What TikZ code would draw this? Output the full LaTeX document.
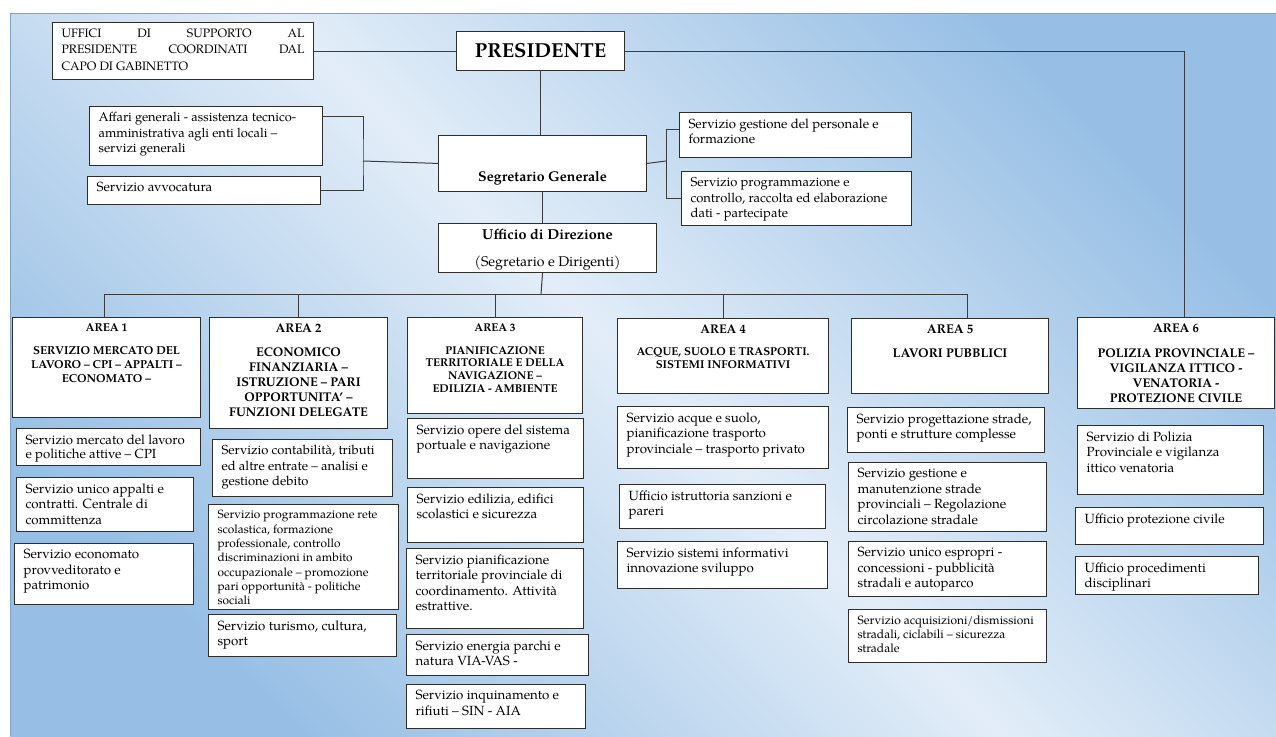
\documentclass[tikz,border=0pt]{standalone}
\usepackage{fontspec}
\setmainfont{texgyrepagella}[Extension=.otf, UprightFont=*-regular, BoldFont=*-bold, ItalicFont=*-italic, BoldItalicFont=*-bolditalic]
\usepackage{tikz}

\definecolor{fondoscuro}{HTML}{97BFE5}
\definecolor{fondochiaro}{HTML}{E2EDF8}
\definecolor{bordo}{HTML}{2E2E2E}
\definecolor{filo}{HTML}{3C3C3C}

% contenuto di un riquadro: larghezza e altezza del riquadro (in pt), testo
\newcommand{\riquadro}[4][t]{%
  \begin{minipage}[t][\dimexpr #3pt-12pt\relax][#1]{\dimexpr #2pt-18pt\relax}%
    \raggedright #4%
  \end{minipage}}

\begin{document}
\begin{tikzpicture}[x=1pt, y=-1pt, % 1 pt = 1 pixel, asse y verso il basso
    voce/.style={draw=bordo, line width=1.1pt, fill=white, anchor=north west,
      inner xsep=9pt, inner ysep=6pt, font=\fontsize{13.3}{15.5}\selectfont},
    collegamento/.style={draw=filo, line width=1pt}]

    % 1. Sfondo azzurro sfumato
    \useasboundingbox (0,0) rectangle (1276,736);
    \shade[left color=fondoscuro, right color=fondoscuro, middle color=fondochiaro,
      shading angle=135] (10,13) rectangle (1276,736);
    \draw[fondoscuro!85!black, line width=0.8pt] (1276,13) -- (10,13) -- (10,736);

    % 2. Presidente e uffici di supporto
    \node[voce, font=\fontsize{12.2}{16.5}\selectfont] (uffici) at (52,22) {\riquadro{261}{57}{\rightskip=0pt
      UFFICI DI SUPPORTO AL\linebreak PRESIDENTE COORDINATI DAL\linebreak CAPO DI GABINETTO}};
    \node[voce] (pres) at (456,31) {\riquadro[c]{168}{39}{\centering\bfseries
      \fontsize{20.2}{24}\selectfont PRESIDENTE}};

    % 3. Segretario Generale e servizi collegati
    \node[voce] (segr) at (438,135) {\riquadro[b]{208}{52}{\centering\bfseries
      \fontsize{14.1}{16}\selectfont Segretario Generale}};
    \node[voce, font=\fontsize{12.9}{15.5}\selectfont] (affari) at (89,106) {\riquadro{233}{59}{Affari generali - assistenza tecnico-\\
      amministrativa agli enti locali --\\ servizi generali}};
    \node[voce] (avvoc) at (87,176) {\riquadro{233}{28}{Servizio avvocatura}};
    \node[voce, font=\fontsize{13.2}{15.5}\selectfont] (pers) at (679,112) {\riquadro{232}{45}{Servizio gestione del personale e\\ formazione}};
    \node[voce, font=\fontsize{13}{15.5}\selectfont] (progc) at (681,171) {\riquadro{230}{54}{Servizio programmazione e\\
      controllo, raccolta ed elaborazione\\ dati - partecipate}};

    % 4. Ufficio di Direzione
    \node[voce, font=\fontsize{14.1}{16}\selectfont] (udir) at (438,223) {\riquadro{218}{49}{\centering
      {\bfseries\fontsize{14.4}{16}\selectfont Ufficio di Direzione}\\[11pt] (Segretario e Dirigenti)}};

    % 5. Le sei aree
    \node[voce, font=\fontsize{11.5}{14}\selectfont] (a1) at (12,317) {\riquadro{188}{100}{\centering\bfseries
      AREA 1\\[9pt] SERVIZIO MERCATO DEL\\ LAVORO -- CPI -- APPALTI --\\ ECONOMATO --}};
    \node[voce, font=\fontsize{12.6}{15}\selectfont] (a2) at (209,317) {\riquadro{178}{111}{\centering\bfseries
      AREA 2\\[9pt] ECONOMICO\\ FINANZIARIA --\\ ISTRUZIONE -- PARI\\ OPPORTUNITA' --\\ FUNZIONI DELEGATE}};
    \node[voce, font=\fontsize{11.3}{12.7}\selectfont] (a3) at (407,317) {\riquadro{175}{96}{\centering\bfseries
      AREA 3\\[10pt] PIANIFICAZIONE\\ TERRITORIALE E DELLA\\ NAVIGAZIONE --\\ EDILIZIA - AMBIENTE}};
    \node[voce, font=\fontsize{11.4}{12.5}\selectfont] (a4) at (617,318) {\riquadro{211}{75}{\centering\bfseries
      {\fontsize{12.5}{14}\selectfont AREA 4}\\[10pt] ACQUE, SUOLO E TRASPORTI.\\ SISTEMI INFORMATIVI}};
    \node[voce, font=\fontsize{12.7}{14}\selectfont] (a5) at (851,318) {\riquadro{197}{75}{\centering\bfseries
      AREA 5\\[10pt] LAVORI PUBBLICI}};
    \node[voce, font=\fontsize{12.6}{15}\selectfont] (a6) at (1077,317) {\riquadro{197}{91}{\centering\bfseries
      AREA 6\\[10pt] POLIZIA PROVINCIALE --\\ VIGILANZA ITTICO -\\ VENATORIA -\\ PROTEZIONE CIVILE}};

    % 6. Servizi dell'area 1
    \node[voce, font=\fontsize{13.2}{14.3}\selectfont] (s11) at (16,428) {\riquadro{184}{37}{Servizio mercato del lavoro\\ e politiche attive -- CPI}};
    \node[voce] (s12) at (16,477) {\riquadro{177}{54}{Servizio unico appalti e\\ contratti. Centrale di\\ committenza}};
    \node[voce] (s13) at (14,543) {\riquadro{179}{61}{Servizio economato\\ provveditorato e\\ patrimonio}};

    % 7. Servizi dell'area 2
    \node[voce, font=\fontsize{13}{15.5}\selectfont] (s21) at (212,439) {\riquadro{180}{57}{Servizio contabilità, tributi\\ ed altre entrate -- analisi e\\ gestione debito}};
    \node[voce, font=\fontsize{11.9}{14.3}\selectfont] (s22) at (208,504) {\riquadro{190}{105}{Servizio programmazione rete\\
      scolastica, formazione\\ professionale, controllo\\ discriminazioni in ambito\\ occupazionale -- promozione\\
      pari opportunità - politiche\\ sociali}};
    \node[voce] (s23) at (208,614) {\riquadro{188}{42}{Servizio turismo, cultura,\\ sport}};

    % 8. Servizi dell'area 3
    \node[voce] (s31) at (407,418) {\riquadro{176}{60}{Servizio opere del sistema\\ portuale e navigazione}};
    \node[voce] (s32) at (407,487) {\riquadro{176}{55}{Servizio edilizia, edifici\\ scolastici e sicurezza}};
    \node[voce] (s33) at (406,548) {\riquadro{177}{80}{Servizio pianificazione\\ territoriale provinciale di\\
      coordinamento. Attività\\ estrattive.}};
    \node[voce] (s34) at (406,634) {\riquadro{182}{41}{Servizio energia parchi e\\ natura VIA-VAS -}};
    \node[voce] (s35) at (406,684) {\riquadro{179}{44}{Servizio inquinamento e\\ rifiuti -- SIN - AIA}};

    % 9. Servizi dell'area 4
    \node[voce] (s41) at (617,406) {\riquadro{211}{62}{Servizio acque e suolo,\\ pianificazione trasporto\\
      provinciale -- trasporto privato}};
    \node[voce] (s42) at (619,484) {\riquadro{206}{44}{Ufficio istruttoria sanzioni e\\ pareri}};
    \node[voce] (s43) at (617,541) {\riquadro{210}{47}{Servizio sistemi informativi\\ innovazione sviluppo}};

    % 10. Servizi dell'area 5
    \node[voce] (s51) at (847,407) {\riquadro{197}{45}{Servizio progettazione strade,\\ ponti e strutture complesse}};
    \node[voce] (s52) at (848,462) {\riquadro{198}{69}{Servizio gestione e\\ manutenzione strade\\
      provinciali -- Regolazione\\ circolazione stradale}};
    \node[voce] (s53) at (848,541) {\riquadro{198}{55}{Servizio unico espropri -\\ concessioni - pubblicità\\
      stradali e autoparco}};
    \node[voce, font=\fontsize{12}{14}\selectfont] (s54) at (848,609) {\riquadro{198}{53}{Servizio acquisizioni/dismissioni\\
      stradali, ciclabili -- sicurezza\\ stradale}};

    % 11. Servizi dell'area 6
    \node[voce] (s61) at (1077,425) {\riquadro{186}{69}{Servizio di Polizia\\ Provinciale e vigilanza\\ ittico venatoria}};
    \node[voce] (s62) at (1075,507) {\riquadro{188}{37}{Ufficio protezione civile}};
    \node[voce] (s63) at (1075,556) {\riquadro{183}{38}{Ufficio procedimenti\\ disciplinari}};

    % 12. Collegamenti
    \coordinate (nodoS) at (363,161);
    \coordinate (nodoD) at (666,161);
    \coordinate (bus) at (541,294);
    \draw[collegamento] (uffici.east) -- (pres.west);
    \draw[collegamento] (pres.south) -- (pres.south |- segr.north);
    \draw[collegamento] (pres.east) -| ([xshift=8pt]a6.north);
    \draw[collegamento] (segr.west) -- (nodoS);
    \draw[collegamento] ([yshift=-10pt]affari.north east) -| (nodoS) |- (avvoc.east);
    \draw[collegamento] (segr.east) -- (nodoD);
    \draw[collegamento] ([yshift=6pt]pers.west) -| (nodoD) |- (progc.west);
    \draw[collegamento] (segr.south) -- (segr.south |- udir.north);
    \draw[collegamento] (segr.south |- udir.south) -- (bus);
    \draw[collegamento] ([xshift=-2pt]a1.north |- bus) -- ([xshift=17.5pt]a5.north |- bus);
    \draw[collegamento] ([xshift=-2pt]a1.north) -- ([xshift=-2pt]a1.north |- bus);
    \draw[collegamento] (a2.north) -- (a2.north |- bus);
    \draw[collegamento] (a3.north) -- (a3.north |- bus);
    \draw[collegamento] (a4.north) -- (a4.north |- bus);
    \draw[collegamento] ([xshift=17.5pt]a5.north) -- ([xshift=17.5pt]a5.north |- bus);

\end{tikzpicture}
\end{document}
